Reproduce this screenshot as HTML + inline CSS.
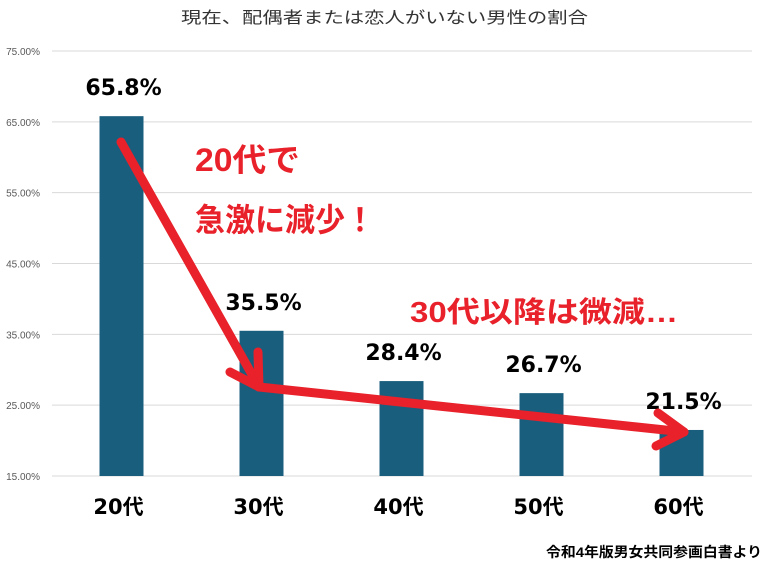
<!DOCTYPE html>
<html><head><meta charset="utf-8"><style>
body{margin:0;background:#fff;}
svg text{font-family:"Liberation Sans","Noto Sans CJK JP",sans-serif;}
</style></head><body>
<svg width="775" height="578" viewBox="0 0 775 578">
<text x="181" y="23" textLength="407" lengthAdjust="spacingAndGlyphs" font-size="16" fill="#333">現在、配偶者または恋人がいない男性の割合</text>
<g id="grid"></g><g id="bars"></g><g id="labels"></g>
<g fill="#e8212a" font-weight="bold">
<text x="195" y="171" font-size="32" textLength="105" lengthAdjust="spacingAndGlyphs">20代で</text>
<text x="195" y="231" font-size="32" textLength="180" lengthAdjust="spacingAndGlyphs">急激に減少！</text>
<text x="410" y="322" font-size="29" textLength="268" lengthAdjust="spacingAndGlyphs">30代以降は微減…</text>
</g>
<g stroke="#e8212a" stroke-width="9" stroke-linecap="round" stroke-linejoin="round" fill="none">
<polyline points="121,142 259,387"/>
<polyline points="258,352 259,387 230,372"/>
<polyline points="259,387 684,432"/>
<polyline points="658,413 684,432 656,446"/>
</g>
<text x="546" y="557" textLength="216" lengthAdjust="spacingAndGlyphs" font-size="14" font-weight="bold" fill="#000">令和4年版男女共同参画白書より</text>
</svg>
<script>
const categories=["20代","30代","40代","50代","60代"];
const values=[65.8,35.5,28.4,26.7,21.5];
const yTicks=[15,25,35,45,55,65,75];
const NS="http://www.w3.org/2000/svg";
const y=v=>476-(v-15)*(425/60);
const x=i=>121.5+i*140;
function mk(tag,attrs,parent){const e=document.createElementNS(NS,tag);for(const k in attrs)e.setAttribute(k,attrs[k]);parent.appendChild(e);return e;}
const grid=document.getElementById('grid'),bars=document.getElementById('bars'),labels=document.getElementById('labels');
yTicks.forEach(t=>{
 const l=mk('line',{x1:52,x2:752,y1:y(t),y2:y(t),stroke:'#d9d9d9','stroke-width':1},grid);
 
 
 const tx=mk('text',{x:40,y:y(t)+4,'text-anchor':'end','font-size':10,fill:'#595959'},grid);
 tx.textContent=t.toFixed(2)+'%';
 
 
});
categories.forEach((c,i)=>{
 const r=mk('rect',{x:x(i)-22,y:y(values[i]),width:44,height:476-y(values[i]),fill:'#1a5e7e'},bars);
 
 
 const v=mk('text',{x:x(i)+2,y:y(values[i])-21,'text-anchor':'middle','font-size':22,'font-weight':'bold',fill:'#000',style:'font-family:"DejaVu Sans",sans-serif'},labels);
 v.textContent=values[i].toFixed(1)+'%';
 
 
 const cl=mk('text',{x:x(i)-3,y:514,'text-anchor':'middle','font-size':21,'font-weight':'bold',fill:'#000',style:'font-family:"DejaVu Sans","Noto Sans CJK JP",sans-serif'},labels);
 cl.textContent=c;
 
 
});
</script>
</body></html>
